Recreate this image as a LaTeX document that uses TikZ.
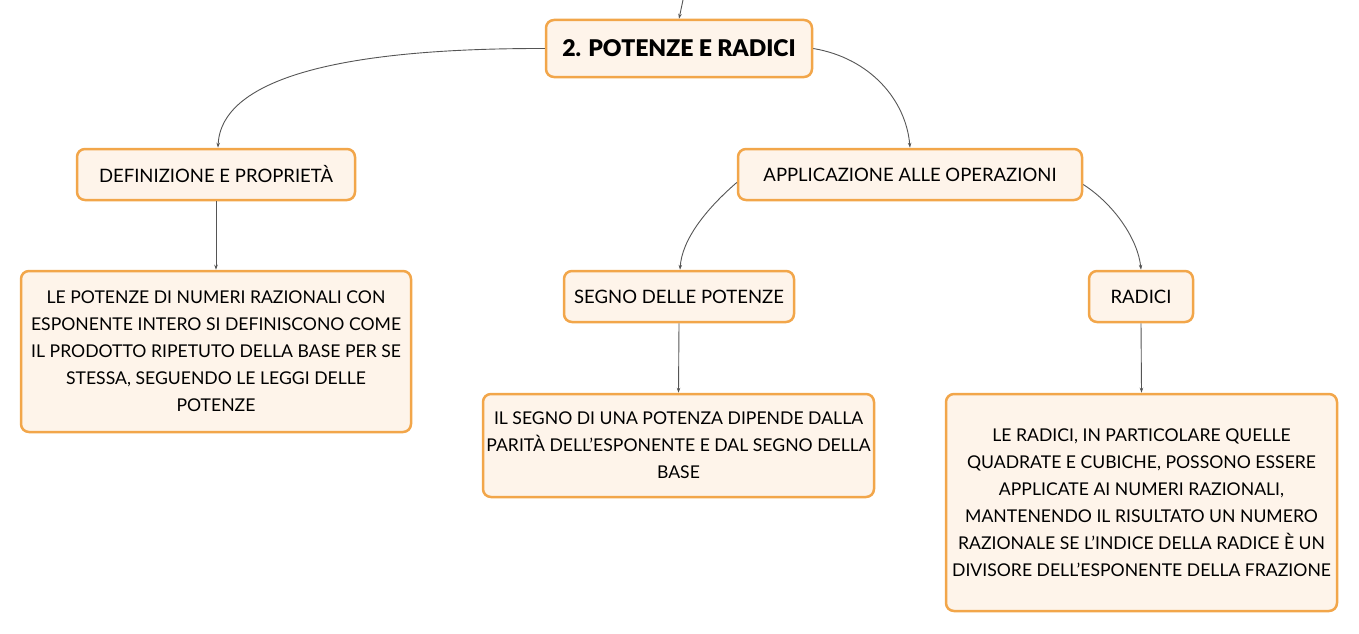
\documentclass[tikz,border=0pt]{standalone}
\usepackage{fontspec}
\setmainfont{Lato}
\newfontfamily\heavyfont{Lato Black}
\usetikzlibrary{arrows.meta}
\definecolor{boxfill}{HTML}{FEF4EA}
\definecolor{boxline}{HTML}{F2A64A}
\definecolor{linkc}{HTML}{555555}
\tikzset{
  box/.style={draw=boxline, fill=boxfill, line width=2.5pt, rounded corners=8pt,
    align=center, inner sep=0pt, font=\fontsize{17.6}{27}\selectfont},
  labelbox/.style={box, font=\fontsize{18.5}{27}\selectfont},
  titlebox/.style={box, font=\fontsize{23}{27}\selectfont\heavyfont},
  link/.style={draw=linkc, line width=0.9pt, -{Stealth[length=5pt,width=3.5pt]}}
}
\begin{document}
\begin{tikzpicture}[x=1pt,y=-1pt]
\useasboundingbox (0,0) rectangle (1359,634);
\node[titlebox, minimum width=266pt, minimum height=57pt] (title) at (679,48.5) {2. POTENZE E RADICI};
\node[labelbox, minimum width=278pt, minimum height=51pt] (def) at (216,174.5) {DEFINIZIONE E PROPRIETÀ};
\node[labelbox, minimum width=344pt, minimum height=51pt] (app) at (910,174.5) {APPLICAZIONE ALLE OPERAZIONI};
\node[box, minimum width=390pt, minimum height=161pt] (deft) at (216,351.5) {LE POTENZE DI NUMERI RAZIONALI CON\\ESPONENTE INTERO SI DEFINISCONO COME\\IL PRODOTTO RIPETUTO DELLA BASE PER SE\\STESSA, SEGUENDO LE LEGGI DELLE\\POTENZE};
\node[labelbox, minimum width=230pt, minimum height=51pt] (segno) at (679,296.5) {SEGNO DELLE POTENZE};
\node[labelbox, minimum width=104pt, minimum height=51pt] (rad) at (1141,296.5) {RADICI};
\node[box, minimum width=391pt, minimum height=103pt] (segnot) at (678.5,445.5) {IL SEGNO DI UNA POTENZA DIPENDE DALLA\\PARITÀ DELL'ESPONENTE E DAL SEGNO DELLA\\BASE};
\node[box, minimum width=391pt, minimum height=217pt] (radt) at (1141.5,502.5) {LE RADICI, IN PARTICOLARE QUELLE\\QUADRATE E CUBICHE, POSSONO ESSERE\\APPLICATE AI NUMERI RAZIONALI,\\MANTENENDO IL RISULTATO UN NUMERO\\RAZIONALE SE L'INDICE DELLA RADICE È UN\\DIVISORE DELL'ESPONENTE DELLA FRAZIONE};
\coordinate (top) at (683,0);
\draw[link] (top) -- (title.north);
\draw[link] (title.west) .. controls (290,48) and (220,95) .. ([xshift=2pt]def.north);
\draw[link] (title.east) .. controls (870,58) and (906,100) .. (app.north);
\draw[link] ([yshift=-8pt]app.west) .. controls (705,210) and (682,240) .. ([xshift=1pt]segno.north);
\draw[link] ([yshift=-10pt]app.east) .. controls (1115,205) and (1138,240) .. (rad.north);
\draw[link] (def.south) -- (deft.north);
\draw[link] (segno.south) -- (segnot.north);
\draw[link] (rad.south) -- (radt.north);
\end{tikzpicture}
\end{document}
